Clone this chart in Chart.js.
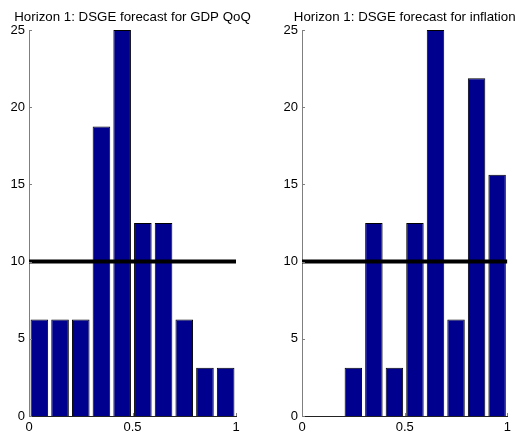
<!DOCTYPE html>
<html>
<head>
<meta charset="utf-8">
<script src="https://cdn.jsdelivr.net/npm/chart.js@4/dist/chart.umd.min.js"></script>
<style>
  html, body { margin: 0; padding: 0; background: #fff; overflow: hidden; }
  #wrap { position: relative; width: 515px; height: 436px; overflow: hidden; }
  canvas { position: absolute; top: 0; }
</style>
</head>
<body>
<div id="wrap">
  <canvas id="chart-gdp" width="258" height="436" style="left:0"></canvas>
  <canvas id="chart-infl" width="242" height="436" style="left:273px"></canvas>
</div>
<script>
/* histogram data: bin centres and share of draws (%) per bin */
const binCenters  = [0.05, 0.15, 0.25, 0.35, 0.45, 0.55, 0.65, 0.75, 0.85, 0.95];
const gdpShares   = [6.25, 6.25, 6.25, 18.75, 25, 12.5, 12.5, 6.25, 3.125, 3.125];
const inflShares  = [0, 0, 3.125, 12.5, 3.125, 12.5, 25, 6.25, 21.875, 15.625];
const xTickValues = [0, 0.5, 1];
const yTickValues = [0, 5, 10, 15, 20, 25];
const refLevel    = 10;

const FONT = 'Arial, "Liberation Sans", Helvetica, sans-serif';

/* MATLAB-ish look: title over the axes, small inward ticks */
const matlabAxes = {
  id: 'matlabAxes',
  afterDraw(chart, args, opts) {
    const { ctx, chartArea: a, scales } = chart;
    ctx.save();
    ctx.strokeStyle = '#7f7f7f';
    ctx.lineWidth = 1;
    ctx.beginPath();
    yTickValues.forEach(v => {
      const y = Math.round(scales.y.getPixelForValue(v)) + 0.5;
      ctx.moveTo(a.left, y); ctx.lineTo(a.left + 3, y);
    });
    xTickValues.forEach(v => {
      const x = Math.round(scales.x.getPixelForValue(v)) + 0.5;
      ctx.moveTo(x, a.bottom); ctx.lineTo(x, a.bottom - 3);
    });
    ctx.stroke();

    ctx.fillStyle = '#000';
    ctx.font = '13.3px ' + FONT;
    ctx.textAlign = 'center';
    ctx.textBaseline = 'alphabetic';
    ctx.fillText(opts.text, (a.left + a.right) / 2, 21);
    ctx.restore();
  }
};

function makeHist(id, title, shares, padRight) {
  const ctx = document.getElementById(id);
  return new Chart(ctx, {
    type: 'bar',
    data: {
      datasets: [
        {
          type: 'line',
          data: [{ x: 0, y: refLevel }, { x: 1, y: refLevel }],
          borderColor: '#000',
          borderWidth: 4,
          pointRadius: 0,
          order: 0
        },
        {
          data: binCenters.map((x, i) => ({ x, y: shares[i] })),
          backgroundColor: '#00008f',
          borderColor: '#000',
          borderWidth: 1,
          barPercentage: 0.85,
          categoryPercentage: 1,
          order: 1
        }
      ]
    },
    options: {
      responsive: false,
      animation: false,
      devicePixelRatio: 1,
      layout: { padding: { top: 30, left: 0, right: padRight, bottom: 0 } },
      plugins: {
        legend: { display: false },
        tooltip: { enabled: false },
        matlabAxes: { text: title }
      },
      scales: {
        x: {
          type: 'linear',
          min: 0, max: 1,
          offset: false,
          grid: { display: false, drawTicks: false },
          border: { color: '#222', width: 1 },
          afterBuildTicks: s => { s.ticks = xTickValues.map(v => ({ value: v })); },
          afterFit: s => { s.height = 20; },
          ticks: {
            color: '#000', padding: 4, maxRotation: 0,
            font: { family: FONT, size: 13 },
            callback: v => String(v)
          }
        },
        y: {
          min: 0, max: 25,
          grid: { display: false, drawTicks: false },
          border: { color: '#7f7f7f', width: 1 },
          afterBuildTicks: s => { s.ticks = yTickValues.map(v => ({ value: v })); },
          afterFit: s => { s.width = 29; },
          ticks: {
            color: '#000', padding: 4,
            font: { family: FONT, size: 13 },
            callback: v => String(v)
          }
        }
      }
    },
    plugins: [matlabAxes]
  });
}

makeHist('chart-gdp', 'Horizon 1: DSGE forecast for GDP QoQ', gdpShares, 22);
makeHist('chart-infl', 'Horizon 1: DSGE forecast for inflation', inflShares, 6);
</script>
</body>
</html>
